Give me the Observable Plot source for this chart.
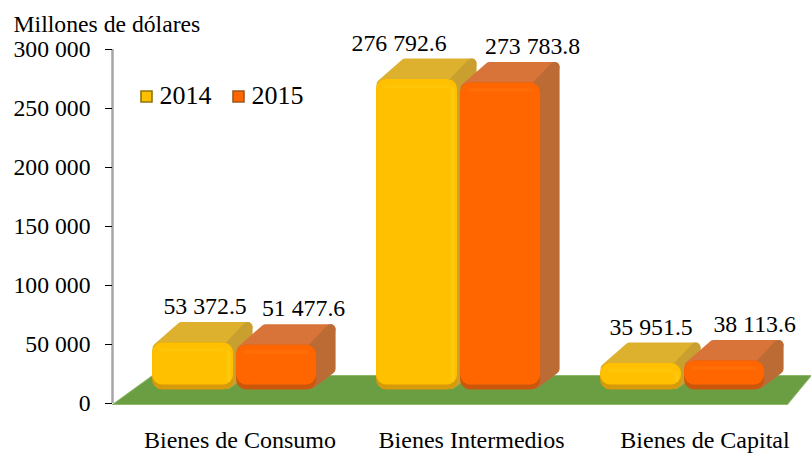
<!DOCTYPE html>
<html>
<head>
<meta charset="utf-8">
<script src="https://cdn.jsdelivr.net/npm/d3@7"></script>
<script src="https://cdn.jsdelivr.net/npm/@observablehq/plot@0.6"></script>
<style>
html,body{margin:0;padding:0;background:#fff}
svg{display:block;background:#fff}
</style>
</head>
<body>
<div id="chart"></div>
<script>
const categories = ["Bienes de Consumo", "Bienes Intermedios", "Bienes de Capital"];
const years = ["2014", "2015"];
const values2014 = [53372.5, 276792.6, 35951.5];
const values2015 = [51477.6, 273783.8, 38113.6];
const valueTexts2014 = ["53 372.5", "276 792.6", "35 951.5"];
const valueTexts2015 = ["51 477.6", "273 783.8", "38 113.6"];
const yTicks = [0, 50000, 100000, 150000, 200000, 250000, 300000];

const W = 811, H = 453, ML = 112, MT = 49, MB = 50;
const px = 1 / 224;                     // one pixel in x-scale units
const py = 300000 / (H - MT - MB);      // one pixel in y-scale units
const serif = "Liberation Serif, Times New Roman, serif";

const skins = {
  "2014": {main: "#FFC000", edge: "#D79A0A", glow: "#FFD21A", top: "#DDB02E", side: "#C9A030"},
  "2015": {main: "#FF6600", edge: "#CC560C", glow: "#FF7E14", top: "#D8743A", side: "#BC6B35"}
};
const centres = categories.map((_, i) => i + 0.545);
const base = 11500;        // where the bars stand on the floor
const backBase = 25000;    // foot of the receding side

const rows = categories.flatMap((c, i) => years.map((yr, j) => {
  const value = (j ? values2015 : values2014)[i];
  const l = centres[i] + (j ? 2 : -82) * px;
  const r = l + (j ? 80 : 81) * px;
  return {category: c, year: yr, value, l, r, v: value - 2.5 * py};
}));

const polygon = (id, pts) => [...pts, pts[0]].map(([x, y]) => ({id, x, y}));
const shrink = 5;
const tops = yr => rows.filter(d => d.year === yr).flatMap((d, k) => polygon(k, [
  [d.l + shrink * px, d.v - shrink * py],
  [d.r - shrink * px, d.v - shrink * py],
  [d.r + 19 * px - shrink * px, d.v + 21 * py - shrink * py],
  [d.l + 24 * px + shrink * px, d.v + 21 * py - shrink * py]
]));
const sides = yr => rows.filter(d => d.year === yr).flatMap((d, k) => polygon(k, [
  [d.r - 6 * px, d.v - shrink * py],
  [d.r + 19 * px - shrink * px, d.v + 21 * py - shrink * py],
  [d.r + 19 * px - shrink * px, backBase + shrink * py],
  [d.r - 6 * px, base + 6 * py]
]));

const floorPts = polygon("floor", [
  [0, -1 * py], [675 * px, -1 * py], [699 * px, 28 * py], [40 * px, 28 * py]
]);

const soft = {strokeLinejoin: "round", strokeWidth: 10, imageFilter: "blur(0.6px)"};
const barMarks = years.flatMap(yr => {
  const s = skins[yr];
  const data = rows.filter(d => d.year === yr);
  return [
    Plot.line(tops(yr), {x: "x", y: "y", z: "id", fill: s.top, stroke: s.top, ...soft}),
    Plot.line(sides(yr), {x: "x", y: "y", z: "id", fill: s.side, stroke: s.side, ...soft}),
    Plot.rect(data, {x1: "l", x2: "r", y1: () => base, y2: "v", fill: s.edge, rx: 10, imageFilter: "blur(0.6px)"}),
    Plot.rect(data, {x1: "l", x2: "r", y1: () => base, y2: "v", fill: s.main, rx: 10, insetBottom: 5, imageFilter: "blur(0.6px)"}),
    Plot.ruleY(data, {x1: d => d.l + 8 * px, x2: d => d.r - 8 * px, y: "v", dy: 7, stroke: s.glow, strokeWidth: 2, strokeOpacity: 0.6, imageFilter: "blur(0.8px)"}),
    Plot.ruleX(data, {x: d => d.r, y1: () => base + 8 * py, y2: d => d.v - 8 * py, dx: -5, stroke: s.glow, strokeWidth: 3, strokeOpacity: yr === "2014" ? 0.6 : 0, imageFilter: "blur(0.8px)"})
  ];
});

// hand-placed value labels, as in the source picture
const nudges2014 = [12, -18, 10];
const nudges2015 = [27, 32, 30];
const labelMarks = categories.flatMap((_, i) => [
  [values2014[i], valueTexts2014[i], nudges2014[i], -82 + 40.5],
  [values2015[i], valueTexts2015[i], nudges2015[i], 2 + 40]
].map(([v, t, n, off]) => Plot.text([t], {
  x: () => centres[i] + (off + n) * px, y: () => v, text: d => d, dy: -34,
  fontSize: 23.8, fontFamily: serif, fill: "#000"
})));

const swatch = (dx, fill, stroke) => Plot.dot([0], {
  frameAnchor: "top-left", dx, dy: 47, symbol: "square", r: 6.2,
  fill, stroke, strokeWidth: 1.6
});
const legendText = (dx, t) => Plot.text([t], {
  frameAnchor: "top-left", dx, dy: 46, text: d => d, lineAnchor: "middle", textAnchor: "start",
  fontSize: 26, fontFamily: serif, fill: "#000"
});

const chart = Plot.plot({
  width: W, height: H,
  marginLeft: ML, marginRight: 0, marginTop: MT, marginBottom: MB,
  style: {fontFamily: serif, background: "#fff", overflow: "visible"},
  x: {domain: [0, 699 * px], axis: null},
  y: {domain: [0, 300000], axis: null},
  marks: [
    Plot.line(floorPts, {x: "x", y: "y", z: "id", fill: "#6B9E42", stroke: "#8FB96A", strokeWidth: 1}),
    ...barMarks,
    Plot.ruleX([0], {stroke: "#A6A6A6", strokeWidth: 2.5, y1: () => 0, y2: () => 300000}),
    Plot.axisY({
      ticks: yTicks, tickFormat: d => d3.format(",")(d).replace(/,/g, " "),
      tickSize: 7, tickPadding: 15, fontSize: 23.7, label: null, fontFamily: serif, color: "#000"
    }),
    Plot.axisX({
      ticks: [0.569, 1.603, 2.645], tickFormat: (d, i) => categories[i],
      tickSize: 0, tickPadding: 27, fontSize: 24, label: null, fontFamily: serif, color: "#000"
    }),
    ...labelMarks,
    swatch(34, skins["2014"].main, "#8F7410"),
    legendText(47, years[0]),
    swatch(126, skins["2015"].main, "#9A5A20"),
    legendText(139, years[1]),
    Plot.text(["Millones de dólares"], {
      frameAnchor: "top-left", dx: -99, dy: -25, text: d => d, lineAnchor: "middle", textAnchor: "start",
      fontSize: 23.7, fontFamily: serif, fill: "#000"
    })
  ]
});
document.getElementById("chart").appendChild(chart);
</script>
</body>
</html>
